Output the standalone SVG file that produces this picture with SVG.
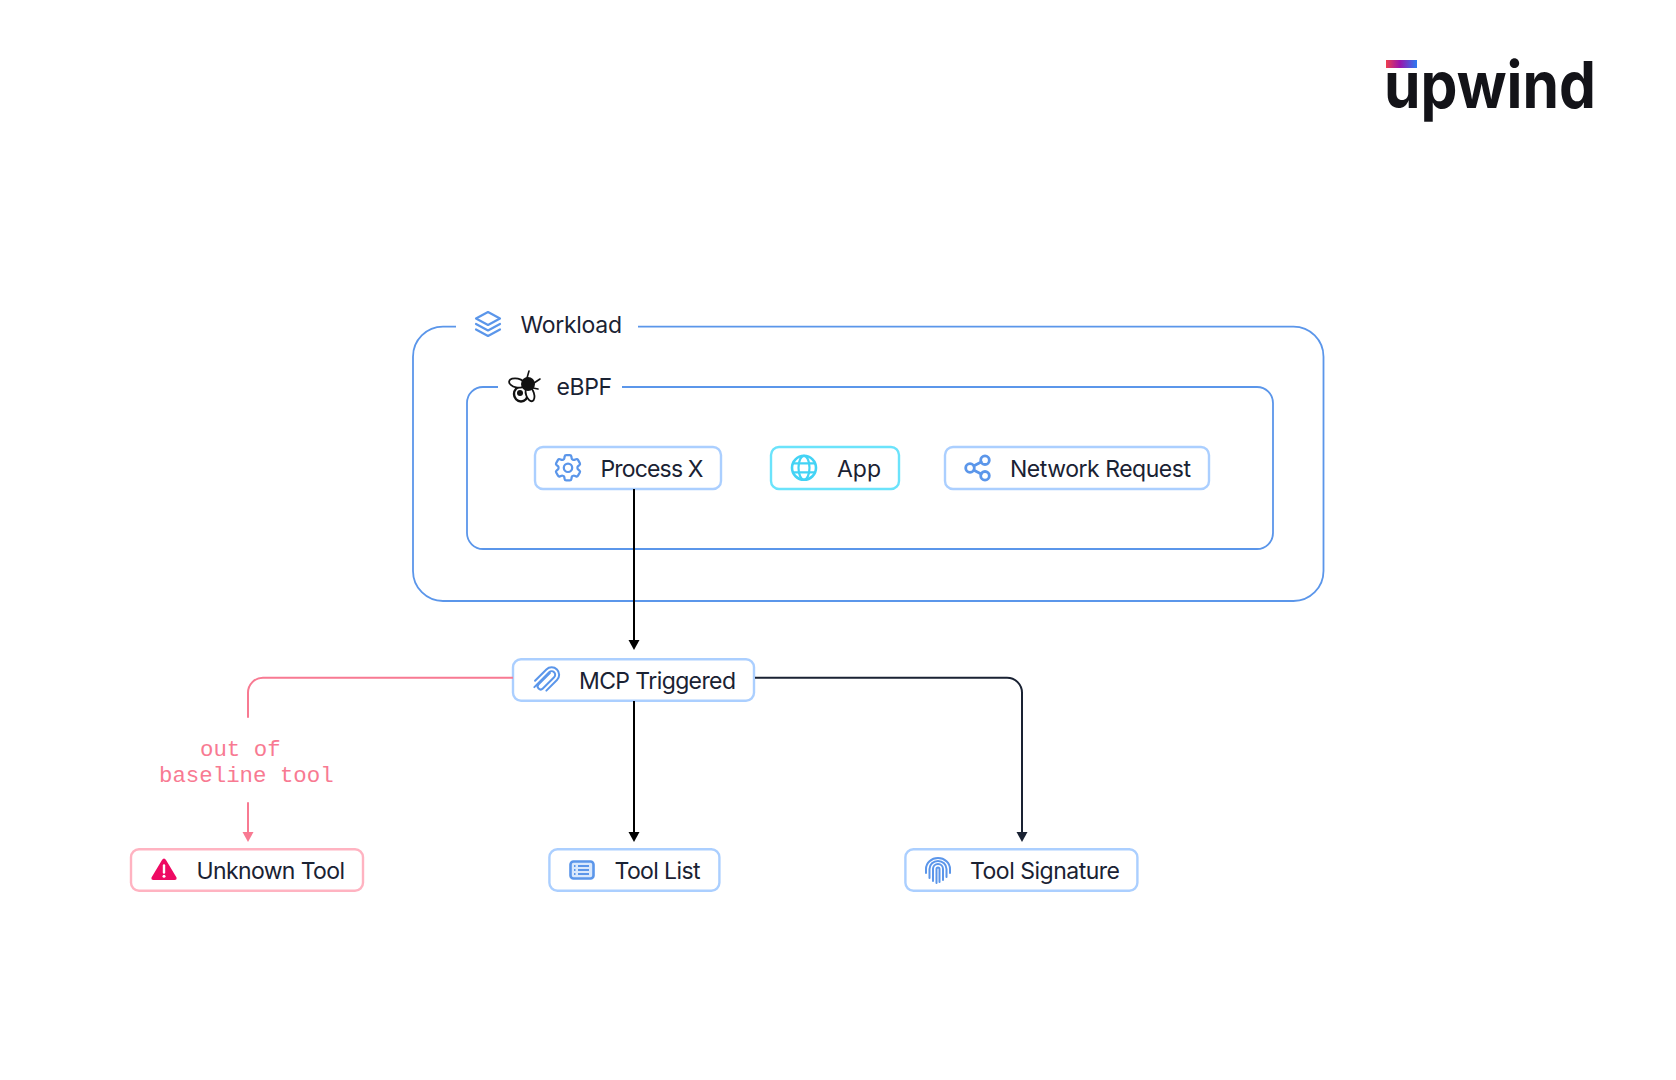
<svg xmlns="http://www.w3.org/2000/svg" width="1676" height="1080" viewBox="0 0 1676 1080">
<style>
.t{font-family:"Inter","Liberation Sans",sans-serif;font-size:23px;fill:#1a2233;font-weight:400}
.m{font-family:"Liberation Mono","DejaVu Sans Mono",monospace;font-size:22.4px;fill:#f87a92}
.box{fill:none;stroke:#5b96ea;stroke-width:1.8}
.n{fill:#fff;stroke:#abcfff;stroke-width:2.4}
.i{fill:none;stroke:#5b96ea;stroke-linecap:round;stroke-linejoin:round}
.c{fill:none;stroke-width:2}
</style>
<defs>
<linearGradient id="lg" x1="0" x2="1" y1="0" y2="0"><stop offset="0" stop-color="#ee3f4e"/><stop offset=".45" stop-color="#9a14ad"/><stop offset="1" stop-color="#2a7bf2"/></linearGradient>
<marker id="ak" markerUnits="userSpaceOnUse" markerWidth="12" markerHeight="10" refX="6" refY="0" viewBox="0 0 12 10" overflow="visible"><path d="M.5 0H11.500L6 10Z" fill="#000"/></marker>
<marker id="an" markerUnits="userSpaceOnUse" markerWidth="12" markerHeight="10" refX="6" refY="0" viewBox="0 0 12 10" overflow="visible"><path d="M.5 0H11.500L6 10Z" fill="#1a2233"/></marker>
<marker id="ap" markerUnits="userSpaceOnUse" markerWidth="12" markerHeight="10" refX="6" refY="0" viewBox="0 0 12 10" overflow="visible"><path d="M.5 0H11.500L6 10Z" fill="#f87a92"/></marker>
</defs>
<rect width="1676" height="1080" fill="#fff"/>

<g id="logo">
<rect x="1386" y="60" width="31" height="8" fill="url(#lg)"/>
<text x="1384" y="108" font-family="Inter,'Liberation Sans',sans-serif" font-size="65" font-weight="700" fill="#131318" textLength="212" lengthAdjust="spacingAndGlyphs">upwind</text>
</g>

<g id="workload">
<path class="box" d="M456 326.700H443A30 30 0 0 0 413 356.700V571A30 30 0 0 0 443 601H1293.500A30 30 0 0 0 1323.500 571V356.700A30 30 0 0 0 1293.500 326.700H638"/>
<g transform="translate(488 324)"><path class="i" style="stroke-width:2.200" d="M0-12 12-5.500 0 1-12-5.500ZM-12 0 0 6.500 12 0M-12 5.500 0 12 12 5.500"/></g>
<text class="t" x="520.500" y="333" textLength="101.500" lengthAdjust="spacing">Workload</text>
</g>

<g id="ebpf">
<path class="box" d="M498 387H483A16 16 0 0 0 467 403V533A16 16 0 0 0 483 549H1257A16 16 0 0 0 1273 533V403A16 16 0 0 0 1257 387H622"/>
<g transform="translate(524 387)" id="bee">
<path d="M3-9 5-16M10-4 16-8M9 1 14 2" stroke="#111" stroke-width="1.600" fill="none" stroke-linecap="round"/>
<ellipse cx="-3" cy="7" rx="7" ry="7.500" fill="#fff" stroke="#111" stroke-width="2.400"/>
<ellipse cx="6" cy="7" rx="4" ry="7.500" fill="#fff" stroke="#111" stroke-width="1.800" transform="rotate(-18 6 7)"/>
<ellipse cx="-7" cy="-4" rx="8" ry="4.500" fill="#fff" stroke="#111" stroke-width="1.800" transform="rotate(12 -7 -4)"/>
<circle cx="-4" cy="6" r="3" fill="#111"/>
<circle cx="4" cy="-3" r="7" fill="#111"/>
</g>
<text class="t" x="556.500" y="395" textLength="55.500" lengthAdjust="spacing">eBPF</text>
</g>

<g id="process-x">
<rect class="n" x="535" y="447" width="186" height="42" rx="8"/>
<g transform="translate(568 467.800) scale(1.400) translate(-12 -12)"><path class="i" style="stroke-width:1.600" d="M9.594 3.940c.09-.542.56-.94 1.110-.94h2.593c.55 0 1.020.398 1.110.94l.213 1.281c.063.374.313.686.645.870.074.04.147.083.22.127.325.196.72.257 1.075.124l1.217-.456a1.125 1.125 0 0 1 1.370.49l1.296 2.247a1.125 1.125 0 0 1-.26 1.431l-1.003.827c-.293.241-.438.613-.43.992a7.723 7.723 0 0 1 0 .255c-.008.378.137.75.43.991l1.004.827c.424.35.534.955.26 1.430l-1.298 2.247a1.125 1.125 0 0 1-1.369.491l-1.217-.456c-.355-.133-.75-.072-1.076.124a6.470 6.470 0 0 1-.22.128c-.331.183-.581.495-.644.869l-.213 1.281c-.09.543-.56.94-1.110.94h-2.594c-.55 0-1.019-.398-1.110-.94l-.213-1.281c-.062-.374-.312-.686-.644-.87a6.520 6.520 0 0 1-.22-.127c-.325-.196-.72-.257-1.076-.124l-1.217.456a1.125 1.125 0 0 1-1.369-.49l-1.297-2.247a1.125 1.125 0 0 1 .26-1.431l1.004-.827c.292-.24.437-.613.43-.991a6.932 6.932 0 0 1 0-.255c.007-.38-.138-.751-.43-.992l-1.004-.827a1.125 1.125 0 0 1-.26-1.430l1.297-2.247a1.125 1.125 0 0 1 1.370-.491l1.216.456c.356.133.751.072 1.076-.124.072-.044.146-.086.22-.128.332-.183.582-.495.644-.869l.214-1.280Z"/><circle class="i" style="stroke-width:1.600" cx="12" cy="12" r="3"/></g>
<text class="t" x="600.500" y="477" textLength="103" lengthAdjust="spacing">Process X</text>
</g>

<g id="app">
<rect class="n" x="771" y="447" width="128" height="42" rx="8" style="stroke:#6be3fb"/>
<g transform="translate(804 467.800)"><circle r="12" fill="none" stroke="#43d3f5" stroke-width="2.600"/><ellipse rx="5.500" ry="12" fill="none" stroke="#43d3f5" stroke-width="2.200"/><path d="M-11-4.500H11M-11 4.500H11" stroke="#43d3f5" stroke-width="2.200" fill="none"/></g>
<text class="t" x="837" y="477" textLength="44" lengthAdjust="spacing">App</text>
</g>

<g id="network-request">
<rect class="n" x="945" y="447" width="264" height="42" rx="8"/>
<g transform="translate(978 468)"><circle class="i" style="stroke-width:2.800" cx="-8" cy="0" r="4.300"/><circle class="i" style="stroke-width:2.800" cx="7" cy="-7.800" r="4.300"/><circle class="i" style="stroke-width:2.800" cx="7" cy="7.800" r="4.300"/><path class="i" style="stroke-width:2.800" d="M-4-2.200 3.200-6M-4 2.200 3.200 6"/></g>
<text class="t" x="1010" y="477" textLength="181" lengthAdjust="spacing">Network Request</text>
</g>

<g id="mcp-triggered">
<rect class="n" x="513" y="659.300" width="241" height="41.500" rx="8"/>
<g transform="translate(546 679) rotate(-45)"><path class="i" style="stroke-width:2" d="M-14-2.500H7A3.500 3.500 0 0 1 7 4.500H-9A3 3 0 0 1-9-1.500H7M-8 8.500H7A7.500 7.500 0 0 0 7-6.500H-9"/></g>
<text class="t" x="579" y="689" textLength="157" lengthAdjust="spacing">MCP Triggered</text>
</g>

<g id="tool-list">
<rect class="n" x="549.400" y="849.300" width="170" height="41.500" rx="8"/>
<g transform="translate(582 870)"><rect x="-11.500" y="-8.500" width="23" height="17" rx="3" fill="#d9e8fc" stroke="#5b96ea" stroke-width="2.600"/><path d="M-4-4H7M-4 0H7M-4 4H7M-8-4H-6.500M-8 0H-6.500M-8 4H-6.500" stroke="#5b96ea" stroke-width="2" fill="none"/></g>
<text class="t" x="614.500" y="878.500" textLength="86" lengthAdjust="spacing">Tool List</text>
</g>

<g id="tool-signature">
<rect class="n" x="905.400" y="849.300" width="232" height="41.500" rx="8"/>
<g transform="translate(938 870)"><path class="i" style="stroke-width:2" d="M-12 3V-1A12 11 0 0 1 12-1V3M-8.500 8V-1A8.500 8 0 0 1 8.500-1V7M-5 11V-1A5 5 0 0 1 5-1V10M-1.500 13V-1A1.500 1.500 0 0 1 1.500-1V12"/></g>
<text class="t" x="970" y="878.500" textLength="150" lengthAdjust="spacing">Tool Signature</text>
</g>

<g id="unknown-tool">
<rect class="n" x="131" y="849.300" width="232" height="41.500" rx="8" style="stroke:#ffb3c1"/>
<g transform="translate(164 870)"><path d="M0-11.500Q1.200-11.500 2-10L12.500 7.500Q13 10 10.500 10H-10.500Q-13 10-12.500 7.500L-2-10Q-1.200-11.500 0-11.500Z" fill="#ee0a63"/><path d="M0-4.500V2.500" stroke="#fff" stroke-width="2.400" stroke-linecap="round"/><circle cy="6.300" r="1.500" fill="#fff"/></g>
<text class="t" x="196.500" y="878.500" textLength="148.500" lengthAdjust="spacing">Unknown Tool</text>
</g>

<g id="connectors">
<path class="c" stroke="#000" marker-end="url(#ak)" d="M634 489V640"/>
<path class="c" stroke="#000" marker-end="url(#ak)" d="M634 701V832"/>
<path class="c" stroke="#1a2233" marker-end="url(#an)" d="M755 677.700H1007A15 15 0 0 1 1022 692.700V832"/>
<path class="c" stroke="#f87a92" d="M513 677.700H263A15 15 0 0 0 248 692.700V717.700"/>
<path class="c" stroke="#f87a92" marker-end="url(#ap)" d="M248 802.300V832"/>
<text class="m" x="200" y="756">out of</text>
<text class="m" x="159" y="781.700">baseline tool</text>
</g>
</svg>
